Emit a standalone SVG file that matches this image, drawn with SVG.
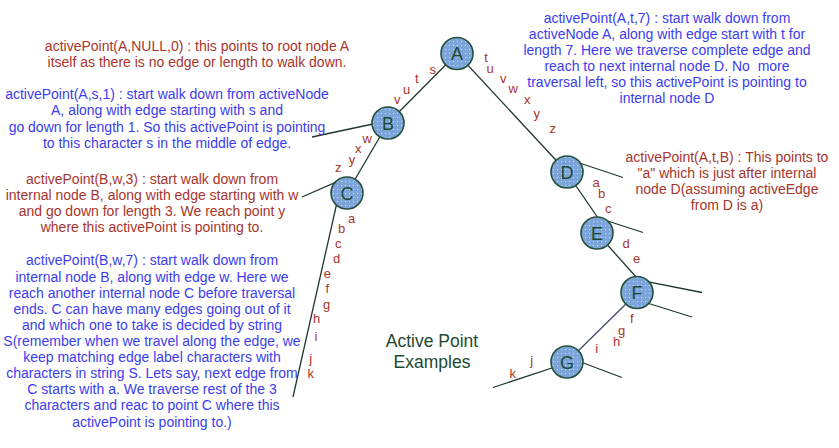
<svg xmlns="http://www.w3.org/2000/svg" width="839" height="448" viewBox="0 0 839 448">
<style>
.t{font-family:"Liberation Sans",Arial,sans-serif;font-size:14px;text-anchor:middle}
.r{fill:#a8352c}
.b{fill:#3c3cf0}
.l{font-family:"Liberation Sans",Arial,sans-serif;font-size:13px;text-anchor:middle;fill:#a8352c}
.n circle{fill:url(#dots);stroke:#24503c;stroke-width:1.6}
.n text{font-family:"Liberation Sans",Arial,sans-serif;font-size:18px;text-anchor:middle;fill:#1d4a35}
#edges line{stroke:#20382e;stroke-width:1.3}
.title{font-family:"Liberation Sans",Arial,sans-serif;font-size:17.5px;text-anchor:middle;fill:#1d4a30}
</style>
<defs>
<pattern id="dots" width="4" height="4" patternUnits="userSpaceOnUse">
<rect width="4" height="4" fill="#7ea5da"/>
<rect x="1" y="1" width="1" height="1" fill="#c8dcf4"/>
</pattern>
</defs>
<rect width="839" height="448" fill="#ffffff"/>
<g id="edges">
<line x1="457" y1="53.5" x2="388" y2="123"/>
<line x1="457" y1="53.5" x2="567" y2="172"/>
<line x1="380" y1="122.5" x2="312" y2="137"/>
<line x1="388" y1="123" x2="347" y2="193"/>
<line x1="340" y1="180.4" x2="302" y2="197"/>
<line x1="338" y1="198" x2="293" y2="397"/>
<line x1="572" y1="160.5" x2="623" y2="177.5"/>
<line x1="574" y1="183" x2="598" y2="218"/>
<line x1="600" y1="218.5" x2="643" y2="232.5"/>
<line x1="603" y1="240" x2="637" y2="278"/>
<line x1="642" y1="280.6" x2="702" y2="292.5"/>
<line x1="644" y1="302" x2="692" y2="317"/>
<line x1="632" y1="298" x2="574" y2="355" style="stroke:#3c4a72"/>
<line x1="578" y1="361" x2="622" y2="377.5"/>
<line x1="558" y1="366" x2="493" y2="387.5"/>
</g>
<g id="edge-labels">
<text class="l" x="432.7" y="74">s</text>
<text class="l" x="416.7" y="83">t</text>
<text class="l" x="406.7" y="93.5">u</text>
<text class="l" x="397.3" y="103.5">v</text>
<text class="l" x="486" y="62">t</text>
<text class="l" x="490" y="72.8">u</text>
<text class="l" x="503.3" y="82.8">v</text>
<text class="l" x="513.3" y="92.8">w</text>
<text class="l" x="527.3" y="103.5">x</text>
<text class="l" x="536.7" y="117.8">y</text>
<text class="l" x="552.7" y="132.8">z</text>
<text class="l" x="367.3" y="142.8">w</text>
<text class="l" x="358.3" y="152.8">x</text>
<text class="l" x="352" y="163.8">y</text>
<text class="l" x="338.3" y="172.2">z</text>
<text class="l" x="351.7" y="222.8">a</text>
<text class="l" x="341.7" y="232.8">b</text>
<text class="l" x="338.3" y="247.8">c</text>
<text class="l" x="336.7" y="262.8">d</text>
<text class="l" x="327.3" y="277.8">e</text>
<text class="l" x="327.3" y="292.8">f</text>
<text class="l" x="326.7" y="308.5">g</text>
<text class="l" x="316.7" y="322.8">h</text>
<text class="l" x="316" y="341.2">i</text>
<text class="l" x="310.7" y="362.8">j</text>
<text class="l" x="310.7" y="377.8">k</text>
<text class="l" x="596" y="187.2">a</text>
<text class="l" x="601.7" y="197.8">b</text>
<text class="l" x="608.3" y="212.8">c</text>
<text class="l" x="626" y="247.8">d</text>
<text class="l" x="636.7" y="262.8">e</text>
<text class="l" x="631.7" y="322.8">f</text>
<text class="l" x="621.7" y="334.5">g</text>
<text class="l" x="616.7" y="345.5">h</text>
<text class="l" x="596.7" y="352.8">i</text>
<text class="l" x="531.7" y="364.5">j</text>
<text class="l" x="512.7" y="377.8">k</text>
</g>
<g id="node-A" class="n"><circle cx="457" cy="53.5" r="16"/><text x="457" y="60">A</text></g>
<g id="node-B" class="n"><circle cx="388" cy="123" r="16"/><text x="388" y="129.5">B</text></g>
<g id="node-C" class="n"><circle cx="347" cy="193" r="16"/><text x="347" y="199.5">C</text></g>
<g id="node-D" class="n"><circle cx="567" cy="172" r="16"/><text x="567" y="178.5">D</text></g>
<g id="node-E" class="n"><circle cx="597" cy="233" r="16"/><text x="597" y="239.5">E</text></g>
<g id="node-F" class="n"><circle cx="637" cy="292.5" r="16"/><text x="637" y="299">F</text></g>
<g id="node-G" class="n"><circle cx="567" cy="362" r="16"/><text x="567" y="368.5">G</text></g>
<g id="note1" class="t r">
<text x="197" y="51">activePoint(A,NULL,0) : this points to root node A</text>
<text x="197" y="67">itself as there is no edge or length to walk down.</text>
</g>
<g id="note2" class="t b">
<text x="167" y="99">activePoint(A,s,1) : start walk down from activeNode</text>
<text x="167" y="115">A, along with edge starting with s and</text>
<text x="167" y="131.5">go down for length 1. So this activePoint is pointing</text>
<text x="167" y="147.5">to this character s in the middle of edge.</text>
</g>
<g id="note3" class="t r">
<text x="152" y="184">activePoint(B,w,3) : start walk down from</text>
<text x="152" y="200">internal node B, along with edge starting with w</text>
<text x="152" y="216">and go down for length 3. We reach point y</text>
<text x="152" y="232">where this activePoint is pointing to.</text>
</g>
<g id="note4" class="t b">
<text x="152" y="265">activePoint(B,w,7) : start walk down from</text>
<text x="152" y="281.5">internal node B, along with edge w. Here we</text>
<text x="152" y="298">reach another internal node C before traversal</text>
<text x="152" y="314">ends. C can have many edges going out of it</text>
<text x="152" y="330">and which one to take is decided by string</text>
<text x="152" y="346">S(remember when we travel along the edge, we</text>
<text x="152" y="362">keep matching edge label characters with</text>
<text x="152" y="378">characters in string S. Lets say, next edge from</text>
<text x="152" y="394">C starts with a. We traverse rest of the 3</text>
<text x="152" y="410">characters and reac to point C where this</text>
<text x="152" y="426.5">activePoint is pointing to.)</text>
</g>
<g id="note5" class="t b">
<text x="667" y="23.3">activePoint(A,t,7) : start walk down from</text>
<text x="667" y="39.3">activeNode A, along with edge start with t for</text>
<text x="667" y="55">length 7. Here we traverse complete edge and</text>
<text x="667" y="70.7" xml:space="preserve">reach to next internal node D. No  more</text>
<text x="667" y="86.7">traversal left, so this activePoint is pointing to</text>
<text x="667" y="103.3">internal node D</text>
</g>
<g id="note6" class="t r">
<text x="727" y="162">activePoint(A,t,B) : This points to</text>
<text x="727" y="178">"a" which is just after internal</text>
<text x="727" y="194">node D(assuming activeEdge</text>
<text x="727" y="210">from D is a)</text>
</g>
<g id="title">
<text class="title" x="432" y="346.5">Active Point</text>
<text class="title" x="432" y="367.5">Examples</text>
</g>
</svg>
